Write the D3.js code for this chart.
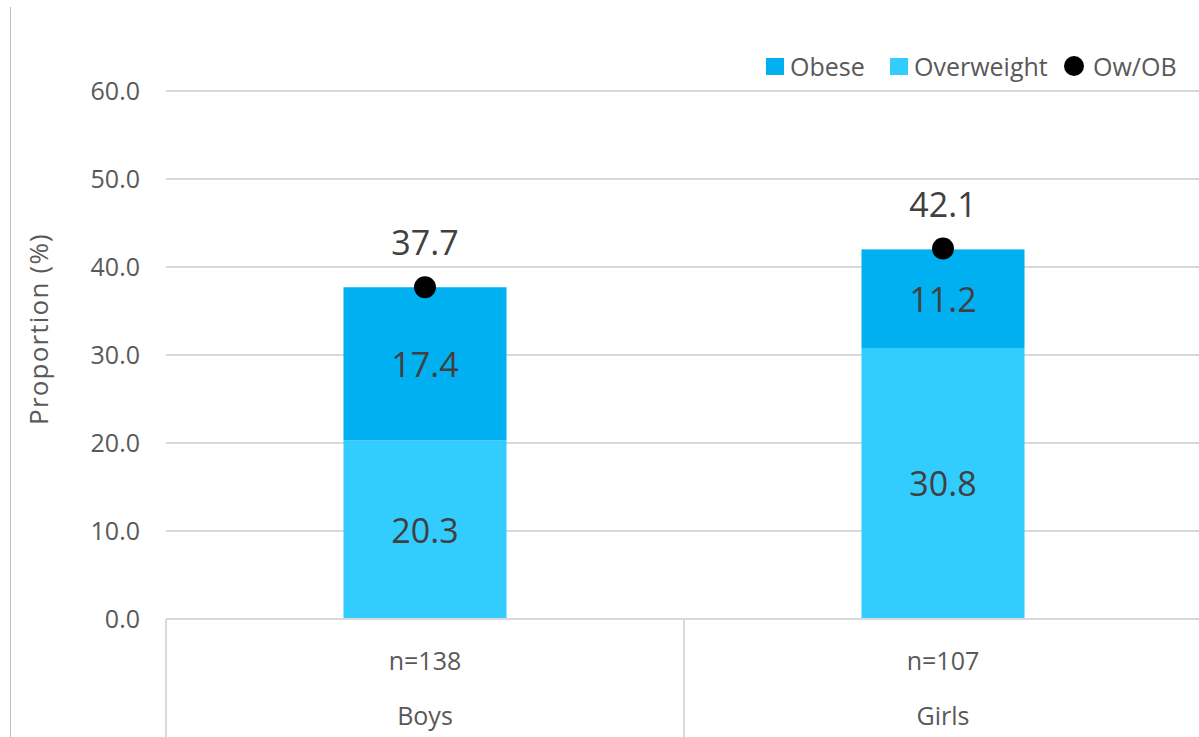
<!DOCTYPE html>
<html>
<head>
<meta charset="utf-8">
<script src="https://cdn.jsdelivr.net/npm/d3@7"></script>
<style>
  body { margin: 0; background: #fff; }
  svg { display: block; font-family: "Open Sans", "Noto Sans", sans-serif; }
</style>
</head>
<body>
<svg id="chart" width="1199" height="737"></svg>
<script>
// Chart data
const groups = ["Boys", "Girls"];
const sampleSizes = ["n=138", "n=107"];
const overweight = [20.3, 30.8];
const obese = [17.4, 11.2];
const owOb = [37.7, 42.1];
const yTicks = [0, 10, 20, 30, 40, 50, 60];

const colors = { obese: "#00B0F0", overweight: "#33CCFF", dot: "#000" };

const margin = { top: 91, right: -3, bottom: 118, left: 166 };
const width = 1199 - margin.left - margin.right;
const height = 737 - margin.top - margin.bottom;

const svg = d3.select("#chart");

// outer frame line on the left
svg.append("line")
    .attr("x1", 10.5).attr("x2", 10.5)
    .attr("y1", 7).attr("y2", 737)
    .attr("stroke", "#BFBFBF").attr("stroke-width", 1);

const g = svg.append("g")
    .attr("transform", `translate(${margin.left},${margin.top})`);

const x = d3.scaleBand().domain(groups).range([0, width]).paddingInner(0).paddingOuter(0);
const y = d3.scaleLinear().domain([0, 60]).range([height, 0]);
const barW = 163;

// gridlines
g.append("g")
    .selectAll("line")
    .data(yTicks.slice(1))
    .join("line")
    .attr("x1", 0).attr("x2", width)
    .attr("y1", d => y(d)).attr("y2", d => y(d))
    .attr("stroke", "#D9D9D9").attr("stroke-width", 2);

// y axis labels
const yAxis = d3.axisLeft(y).tickValues(yTicks).tickFormat(d3.format(".1f")).tickSize(0).tickPadding(26);
g.append("g").call(yAxis)
    .call(a => a.select(".domain").remove())
    .selectAll("text")
    .attr("font-size", 25).attr("fill", "#595959")
    .attr("font-family", "Open Sans, sans-serif");

// stacked bars
const stack = groups.map((gr, i) => ({ gr, ow: overweight[i], ob: obese[i], tot: owOb[i], n: sampleSizes[i] }));

g.selectAll(".ow")
    .data(stack).join("rect")
    .attr("x", d => x(d.gr) + x.bandwidth() / 2 - barW / 2)
    .attr("width", barW)
    .attr("y", d => y(d.ow))
    .attr("height", d => y(0) - y(d.ow))
    .attr("fill", colors.overweight);

g.selectAll(".ob")
    .data(stack).join("rect")
    .attr("x", d => x(d.gr) + x.bandwidth() / 2 - barW / 2)
    .attr("width", barW)
    .attr("y", d => y(d.ow + d.ob))
    .attr("height", d => y(d.ow) - y(d.ow + d.ob))
    .attr("fill", colors.obese);

// segment labels
const labelStyle = sel => sel
    .attr("text-anchor", "middle")
    .attr("dominant-baseline", "central")
    .attr("font-size", 34)
    .attr("fill", "#404040");

g.selectAll(".owl")
    .data(stack).join("text")
    .attr("x", d => x(d.gr) + x.bandwidth() / 2)
    .attr("y", d => y(d.ow / 2))
    .text(d => d3.format(".1f")(d.ow))
    .call(labelStyle);

g.selectAll(".obl")
    .data(stack).join("text")
    .attr("x", d => x(d.gr) + x.bandwidth() / 2)
    .attr("y", d => y(d.ow + d.ob / 2))
    .text(d => d3.format(".1f")(d.ob))
    .call(labelStyle);

// total dots + labels
g.selectAll(".dot")
    .data(stack).join("circle")
    .attr("cx", d => x(d.gr) + x.bandwidth() / 2)
    .attr("cy", d => y(d.tot))
    .attr("r", 11)
    .attr("fill", colors.dot);

g.selectAll(".totl")
    .data(stack).join("text")
    .attr("x", d => x(d.gr) + x.bandwidth() / 2)
    .attr("y", d => y(d.tot) - 45)
    .text(d => d3.format(".1f")(d.tot))
    .call(labelStyle);

// category axis (two levels)
const axisG = g.append("g").attr("transform", `translate(0,${height})`);
axisG.append("line")
    .attr("x1", 0).attr("x2", width)
    .attr("y1", 0).attr("y2", 0)
    .attr("stroke", "#D9D9D9").attr("stroke-width", 2);
axisG.selectAll(".tick-v")
    .data([0, ...groups.map(d => x(d) + x.bandwidth())])
    .join("line")
    .attr("x1", d => d).attr("x2", d => d)
    .attr("y1", 0).attr("y2", margin.bottom)
    .attr("stroke", "#D9D9D9").attr("stroke-width", 2);
axisG.selectAll(".nl")
    .data(stack).join("text")
    .attr("x", d => x(d.gr) + x.bandwidth() / 2)
    .attr("y", 41)
    .attr("text-anchor", "middle").attr("dominant-baseline", "central")
    .attr("font-size", 25).attr("fill", "#595959")
    .text(d => d.n);
axisG.selectAll(".gl")
    .data(stack).join("text")
    .attr("x", d => x(d.gr) + x.bandwidth() / 2)
    .attr("y", 96)
    .attr("text-anchor", "middle").attr("dominant-baseline", "central")
    .attr("font-size", 25).attr("fill", "#595959")
    .text(d => d.gr);

// y axis title
svg.append("text")
    .attr("transform", "translate(38,329) rotate(-90)")
    .attr("text-anchor", "middle").attr("dominant-baseline", "central")
    .attr("font-size", 26).attr("letter-spacing", 1.2).attr("fill", "#595959")
    .text("Proportion (%)");

// legend
const legend = svg.append("g").attr("transform", "translate(0,66)");
legend.append("rect").attr("x", 766).attr("y", -8).attr("width", 18).attr("height", 17).attr("fill", colors.obese);
legend.append("text").attr("x", 790).attr("y", 0).attr("dominant-baseline", "central")
    .attr("font-size", 25).attr("fill", "#595959").text("Obese");
legend.append("rect").attr("x", 890).attr("y", -8).attr("width", 18).attr("height", 17).attr("fill", colors.overweight);
legend.append("text").attr("x", 914).attr("y", 0).attr("dominant-baseline", "central")
    .attr("font-size", 25).attr("fill", "#595959").text("Overweight");
legend.append("circle").attr("cx", 1074).attr("cy", 0).attr("r", 10).attr("fill", colors.dot);
legend.append("text").attr("x", 1093).attr("y", 0).attr("dominant-baseline", "central")
    .attr("font-size", 25).attr("fill", "#595959").text("Ow/OB");
</script>
</body>
</html>
